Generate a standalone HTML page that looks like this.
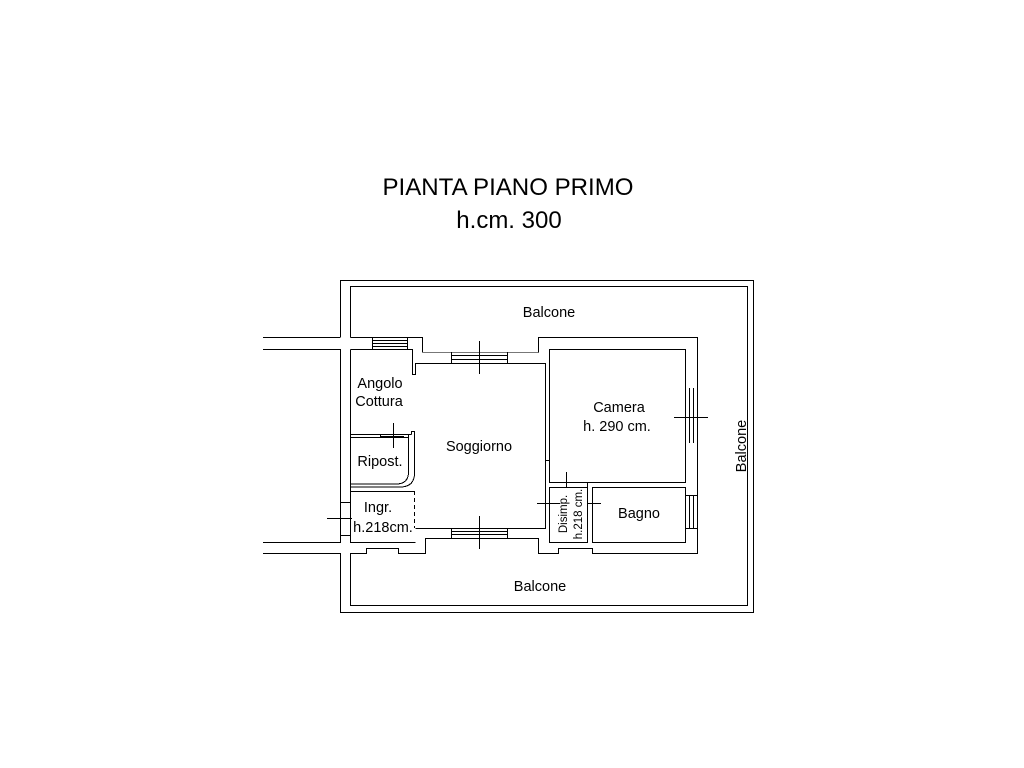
<!DOCTYPE html>
<html><head><meta charset="utf-8"><style>
html,body{margin:0;padding:0;background:#fff;}
svg{display:block}
text{font-family:"Liberation Sans",sans-serif;fill:#000}
</style></head><body>
<svg width="1024" height="768" viewBox="0 0 1024 768" xmlns="http://www.w3.org/2000/svg">
<g fill="none" stroke="#000" stroke-width="1" shape-rendering="crispEdges">
<path d="M340.5 337 V280.5 H753.5 V612.5 H340.5 V553"/>
<path d="M350.5 337.5 V286.5 H747.5 V605.5 H350.5 V553"/>
<path d="M263 337.5 H340.5"/>
<path d="M263 349.5 H340.5 V542.5 H263"/>
<path d="M263 553.5 H340.5"/>
<path d="M350.5 337.5 H422.5 V352.5"/>
<path d="M422.5 352.5 H538.5" stroke="#777"/>
<path d="M538.5 352.5 V337.5 H697.5 V553.5 H592.5 V548.5 H558.5 V553.5 H538.5 V538.5 H425.5 V553.5 H398.5 V548.5 H366.5 V553.5 H350.5"/>
<path d="M350.5 349.5 V542.5 H415.5"/>
<path d="M350.5 349.5 H412.5 V374.5 H415.5 V363.5 H545.5 V528.5 H415.5"/>
<path d="M372.5 337 V349 M407.5 337 V349 M372 340.5 H408 M372 343.5 H408 M372 346.5 H408"/>
<path d="M451.5 352 V363 M507.5 352 V363 M451 355.5 H508 M451 359.5 H508"/>
<path d="M479.5 341 V374"/>
<path d="M451.5 528 V538 M507.5 528 V538 M451 531.5 H508 M451 534.5 H508"/>
<path d="M479.5 516 V549"/>
<path d="M350.5 434.5 H411.5 M350.5 437.5 H408.5 V434.5"/>
<path d="M380.5 434 V438"/>
<path d="M393.5 423 V448 M381 436.5 H404"/>
<path d="M408.5 437.5 V472 Q408.5 484 396 484 H350.5"/>
<path d="M411.5 434.5 V431.5 H414.5 V473 Q414.5 487 400 487 H350.5"/>
<path d="M350.5 491.5 H414.5"/>
<path d="M414.5 491 V528" stroke-dasharray="4,3"/>
<path d="M340.5 502.5 H350.5 M340.5 535.5 H350.5 M327 518.5 H352"/>
<rect x="549.5" y="349.5" width="136" height="133"/>
<path d="M545.5 460.5 H549.5"/>
<path d="M685.5 388 V443 M689.5 388 V443 M693.5 388 V443 M674 417.5 H708"/>
<rect x="549.5" y="487.5" width="38" height="55"/>
<path d="M545.5 482 V528 M587.5 482 V487 M566.5 472 V487 M537 503.5 H560 M587.5 503.5 H601"/>
<path d="M549.5 482.5 H592.5"/>
<rect x="592.5" y="487.5" width="93" height="55"/>
<path d="M689.5 495 V528 M693.5 495 V528 M685.5 495.5 H697 M685.5 528.5 H697"/>
</g>
<text x="508" y="195" font-size="24" text-anchor="middle" textLength="251" lengthAdjust="spacingAndGlyphs">PIANTA PIANO PRIMO</text>
<text x="509" y="228" font-size="24" text-anchor="middle">h.cm. 300</text>
<g font-size="14.5" text-anchor="middle">
<text x="549" y="317">Balcone</text>
<text x="540" y="591">Balcone</text>
<text x="746" y="446" transform="rotate(-90 746 446)">Balcone</text>
<text x="380" y="388">Angolo</text>
<text x="379" y="406">Cottura</text>
<text x="479" y="451">Soggiorno</text>
<text x="380" y="466">Ripost.</text>
<text x="378" y="512">Ingr.</text>
<text x="383" y="532">h.218cm.</text>
<text x="619" y="412">Camera</text>
<text x="617" y="431">h. 290 cm.</text>
<text x="639" y="518">Bagno</text>
<text x="567" y="514" font-size="11.5" transform="rotate(-90 567 514)">Disimp.</text>
<text x="582" y="514" font-size="11.5" transform="rotate(-90 582 514)">h.218 cm.</text>
</g>
</svg>
</body></html>
